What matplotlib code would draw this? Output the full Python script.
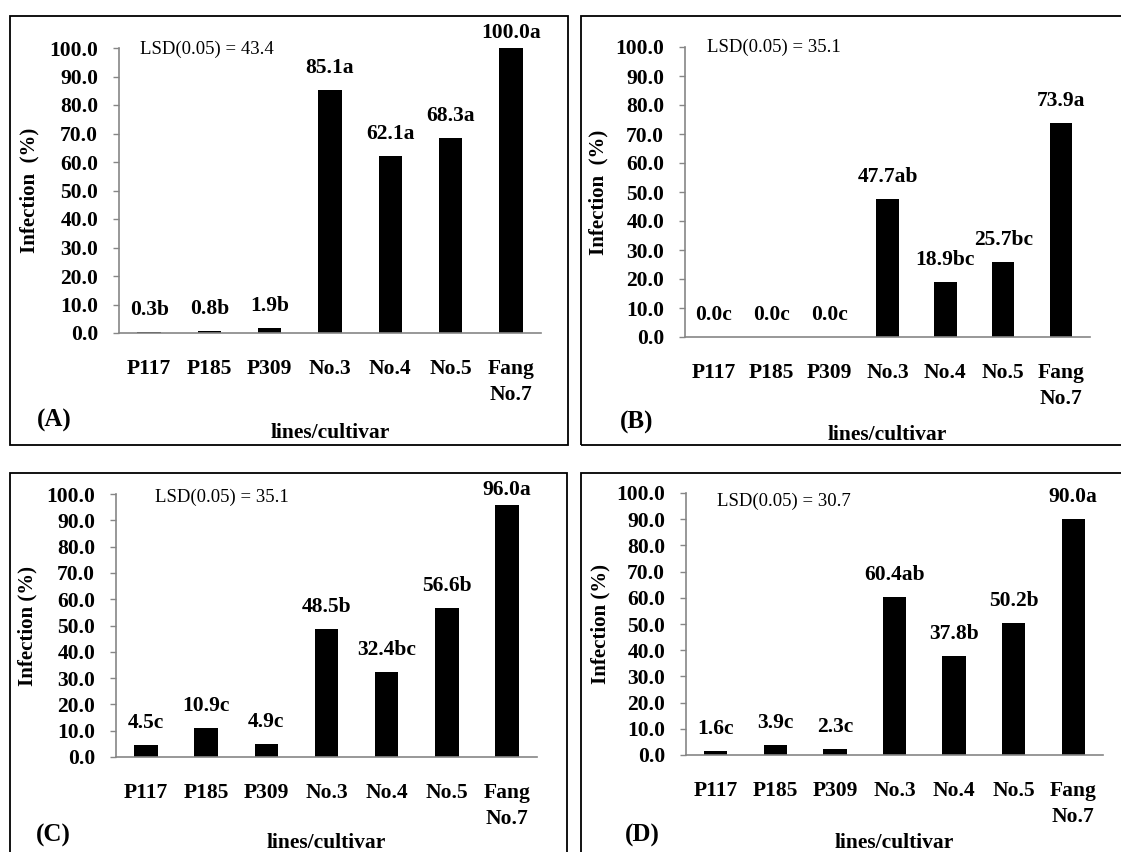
import matplotlib
matplotlib.use("Agg")
import matplotlib.pyplot as plt
from matplotlib.patches import Rectangle

plt.rcParams['font.family'] = ['Liberation Serif', 'DejaVu Serif']

# data
categories = ['P117', 'P185', 'P309', 'No.3', 'No.4', 'No.5', 'Fang\nNo.7']
infection_a = [0.3, 0.8, 1.9, 85.1, 62.1, 68.3, 100.0]
letters_a = ['b', 'b', 'b', 'a', 'a', 'a', 'a']
infection_b = [0.0, 0.0, 0.0, 47.7, 18.9, 25.7, 73.9]
letters_b = ['c', 'c', 'c', 'ab', 'bc', 'bc', 'a']
infection_c = [4.5, 10.9, 4.9, 48.5, 32.4, 56.6, 96.0]
letters_c = ['c', 'c', 'c', 'b', 'bc', 'b', 'a']
infection_d = [1.6, 3.9, 2.3, 60.4, 37.8, 50.2, 90.0]
letters_d = ['c', 'c', 'c', 'ab', 'b', 'b', 'a']
lsd = [43.4, 35.1, 35.1, 30.7]
panel_tags = ['(A)', '(B)', '(C)', '(D)']
ylabels = ['Infection  (%)', 'Infection  (%)', 'Infection (%)', 'Infection (%)']

W, H = 1121, 852
fig = plt.figure(figsize=(W / 100, H / 100), dpi=100)


def fx(px):
    return px / W


def fy(py):
    return 1 - py / H


# layout in pixels: box (l, t, r, b), axes (l, t, r, b), lsd pos, tag pos, ylabel x
layout = [
    dict(box=(10, 16, 568, 445), ax=(119, 48, 541, 333), lsd=(140, 49),
         tag=(54, 420), ylab=29, xlab=433),
    dict(box=(581, 16, 1130, 445), ax=(685, 47, 1090, 337), lsd=(707, 47),
         tag=(637, 422), ylab=598, xlab=435),
    dict(box=(10, 473, 567, 880), ax=(116, 494, 537, 757), lsd=(155, 497),
         tag=(53, 835), ylab=27, xlab=843),
    dict(box=(581, 473, 1130, 880), ax=(686, 493, 1103, 755), lsd=(717, 501),
         tag=(642, 835), ylab=600, xlab=843),
]

series = [(infection_a, letters_a), (infection_b, letters_b),
          (infection_c, letters_c), (infection_d, letters_d)]

for k, (vals, lets) in enumerate(series):
    L = layout[k]
    bl, bt, br, bb = L['box']
    fig.patches.append(Rectangle((fx(bl), fy(bb)), fx(br) - fx(bl), (bb - bt) / H,
                                 transform=fig.transFigure, fill=False,
                                 edgecolor='black', linewidth=1.3))
    al, at, ar, ab = L['ax']
    ax = fig.add_axes([fx(al), fy(ab), fx(ar) - fx(al), (ab - at) / H])
    x = list(range(len(categories)))
    ax.bar(x, vals, width=0.39, color='black')
    ax.set_xlim(-0.5, len(categories) - 0.5)
    ax.set_ylim(0, 100)
    ax.set_yticks(range(0, 101, 10))
    ax.set_yticklabels([f"{t:.1f}" for t in range(0, 101, 10)],
                       fontsize=15.5, fontweight='bold')
    ax.set_xticks(x)
    ax.set_xticklabels(categories, fontsize=15.5, fontweight='bold',
                       linespacing=1.4)
    ax.tick_params(axis='x', length=0, pad=19)
    ax.tick_params(axis='y', length=4, width=1, color='#868686', pad=11)
    for s in ['top', 'right']:
        ax.spines[s].set_visible(False)
    for s in ['left', 'bottom']:
        ax.spines[s].set_color('#868686')
        ax.spines[s].set_linewidth(1.2)

    # value labels above bars, kept inside the chart box
    px_per_unit = (ab - at) / 100.0
    y_cap = 100 + (at - (bt + 17)) / px_per_unit
    for i, (v, l) in enumerate(zip(vals, lets)):
        ly = min(v + 22 / px_per_unit, y_cap)
        ax.text(i, ly, f"{v:.1f}{l}", ha='center', va='center',
                fontsize=15.5, fontweight='bold', clip_on=False)

    fig.text(fx(L['lsd'][0]), fy(L['lsd'][1]), f"LSD(0.05) = {lsd[k]}",
             ha='left', va='center', fontsize=13.5)
    fig.text(fx(L['tag'][0]), fy(L['tag'][1]), panel_tags[k],
             ha='center', va='center', fontsize=18, fontweight='bold')
    fig.text(fx(L['ylab']), fy((at + ab) / 2), ylabels[k], rotation=90,
             ha='center', va='center', fontsize=15, fontweight='bold')
    fig.text(fx((al + ar) / 2), fy(L['xlab']), 'lines/cultivar',
             ha='center', va='center', fontsize=15.5, fontweight='bold')

fig.savefig('out.png', dpi=100)
